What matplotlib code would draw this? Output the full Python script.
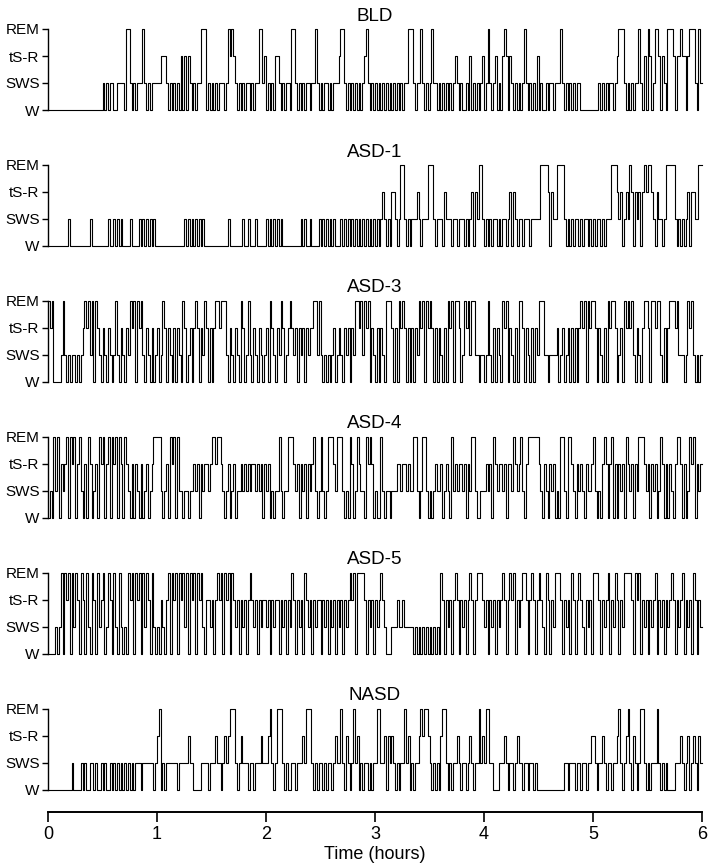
import numpy as np
import matplotlib
matplotlib.use('Agg')
import matplotlib.pyplot as plt

plt.rcParams['font.family'] = ['Liberation Sans', 'DejaVu Sans']

# sleep stage per minute, one string per hour
# W = wake, S = SWS, T = tS-R, R = REM
LEVELS = {'W': 0, 'S': 1, 'T': 2, 'R': 3}
stage_labels = ['W', 'SWS', 'tS-R', 'REM']
titles = ['BLD', 'ASD-1', 'ASD-3', 'ASD-4', 'ASD-5', 'NASD']
hour_ticks = [0, 1, 2, 3, 4, 5, 6]

bld = [
    "W" * 30 + "SWSWS" "SWW" "SSSSW" "RR" "SWSWSSSR" "SWSWSSS",
    "SS" "TTT" "SWSWSWSW" "TWTWT" "SWSWSS" "RRR" "WSWSWSWSSSWS" "RTRT" "SWSWSWSSWSWSS" "RRST",
    "WSWSWTT" "SWSWSSW" "RR" "SWSWSWSSWSS" "R" "SWSWSSWSWSSS" "TRR" "SWSWSWSWSWS" "TRSWSW",
    "SWSWSWSWSWSWSWSWSS" "RRR" "SWSS" "R" "SWSWS" "R" "SSWSWSWSWSWS" "T" "SWSWWSW" "T" "WSWSWS" "T",
    "WSRSWSTWSW" "TRTWT" "SWSWSWS" "R" "SWSWSW" "T" "WSWWSWSSWSSS" "R" "SWSWSWSWSS" "WWWWWWW",
    "WWWSWSWSWSSWS" "TRRR" "SWSWSWSS" "R" "SWTWRTWS" "RRT" "WTSW" "RRRT" "WTTRTTWT" "RRR" "SWRS",
]

asd1 = [
    "W" * 11 + "S" + "W" * 11 + "S" + "W" * 9 + "S" "WW" "S" "W" "S" "W" "S" "WWWW" "S" "WWWW" "SWSWS" "W" "S" "W" "S" "W",
    "W" * 15 + "SWSWS" "W" "SWSWS" + "W" * 13 + "S" + "W" * 7 + "SWWS" "WWW" "S" "WWWWW",
    "SWSWSWSWS" + "W" * 10 + "S" "W" "S" "WW" "S" "WWWW" "SWSWSWSWS" "WWW" "SWSWSWSWSWSWSWSWSWS",
    "WSWSTSWSWTTSWS" "RR" "SWSWSSS" "T" "SWSSS" "RRR" "SWSSSW" "T" "SSSWSSWSSSWSWS" "TWTS" "RRS",
    "WSWSWSSWSWSSWS" "TWTS" "WSSWSSSWSSSSS" "RRRR" "TWTSS" "RRRR" "SWSWSWSSWSWSSWSW",
    "SWSSWSWSSS" "RRR" "TSTWSTS" "RTWTSTWT" "RTRRT" "SWTSSWS" "RRRRR" "SWSWSWS" "TWTTSSRR",
]

asd3 = [
    "RTRWWWWSRSWSWSSWSWST" "RTRSRWRTSWTSWTSWSRSW" "TSWTSRTRWRTRSWTSWTWS",
    "TWSRTWTSWTWTSWRTWSTW" "TRTWTSRTWTWTRRTRRRSW" "TSWTSWRTWSRSWTSWTSWS",
    "TWRTSWTSRTWSTRTSTWTS" "TWTSTTRRSRSWSWSWSTWS" "TSWTSTWTSRRTRSRTRWTS",
    "WTWTSWRRRTWTWRTRTWTW" "TWTSRTRWRTRTWTWTSWTW" "RTRWRRTWSRTRSRRSSWSS",
    "WSRSWTWTSWRTRWTSWTWR" "RTWTSWTWTSRRRSSWSSSS" "TWSTWSTWTWTWTRTRWRTR",
    "RTWTSWTWRTRRTWSTWRTR" "TRSWTSWTRRTWRRTRRSWT" "WTRRRTRSSSWSRTRSWSWS",
]

asd4 = [
    "WSWRSRWTSTRWRTRWTRSW" "TWRTWSTWRTRWTRWRTRWR" "TWRTSWTWTSWTWSTWSTRR",
    "RRSWSTWRTRWRSSWSSWSS" "TSTWTSTTSTRRTRRTSWST" "WSTWSSTSTSTSTTSTSTWT",
    "STWSWSSRSWSSRRRTSTWT" "STWTSTRSWSRSWSRRRTSR" "RRSWSWRTWSRTSSWRTRTW",
    "SWWRSWSSWSSSTTSTTSTS" "SRRSWSRRSWSWSTSSTWST" "SWRSTSTTSTWTSRRSWWSS",
    "STSTWRTSTTSTWTTSRTST" "RSWTRRRRRRTSWTSWTSTW" "SWRRSWRRTSWTSTSWTSST",
    "RSWSWTRTWTRWTWTSTWRT" "STWTSRRRTSTWTSTWSRTW" "TWTSWTRRTWTWSRTRWTST",
]

asd5 = [
    "WWWWSWSRWRTRWRSRTWRT" "WRSWRTWRSTRWSRTWRSWR" "SWSWRTRWRTRWRSRTWRSW",
    "SWTSWTRWRTRWRTRSRWRT" "RWRTRSWTTSTWTRTRWRTR" "WRTSTWTSTWTRTSTWTSTT",
    "STWTSTTWTSTWTSRTWTST" "WRTSTWTSTTWTSTWTSTWT" "STWTSTRTRWRRRRTWTSTW",
    "TSTRTSWWWSSSTSSTSSSS" "SWSWSWSWSWSWSWSWRTWT" "STWTRTWTSTWTRTWTRRRT",
    "STWTSTWTSTRTWTRTRWTS" "TRRTWTRTWTRTSWRTWTSR" "RRTWTSTWRTWTRTSWTSTW",
    "RRRTWTSTRWTSRTWTSRRR" "RTWRTRWTSTWTSTRWTSTW" "TSTRTWTSTRWTSTWRTWTS",
]

nasd = [
    "W" * 13 + "S" "WWWW" "SWS" "WW" "SSWSWW" "SWSWWSWSWSWSWSWSWSW" "SSSWSSSSSSWS",
    "TRWSWSSSSSSWSSSSSTSS" "WWWWSSSSWSSSTSSWSTST" "RRRSWSTSSSWSSWSSSTSS",
    "STRSWSRRRSWSWWSSWSSS" "TSRRRSWSWSSWSWSSWSTS" "SRSWTSWSRSTWSWSSWSWS",
    "SRRSSTWTSTSWSWSSRSTW" "SWSSTRTRRTSWSWSWTRRS" "WSWSSTSWSSWSTSWSSRST",
    "SRRSSWWWSSSTSWSSWSTS" "SWSSWSSWS" + "W" * 15 + "SSWSSSWSSWSSWSST",
    "TSWSSTSWSSWSSTRSWSTR" "SWTSWSRRSWSWSSSRSWSW" "SWWWWSSSTSWSTWSTSWTS",
]

recordings = [bld, asd1, asd3, asd4, asd5, nasd]


def hypnogram(hours):
    # each hour string is spread evenly over its hour
    t, y = [], []
    for h, chunk in enumerate(hours):
        n = len(chunk)
        for k, c in enumerate(chunk):
            t.append(h + k / n)
            y.append(LEVELS[c])
    t.append(len(hours))
    y.append(y[-1])
    return np.array(t), np.array(y)


W_PX, H_PX = 709, 868
fig = plt.figure(figsize=(W_PX / 100, H_PX / 100), dpi=100)
left = 48 / W_PX
width = 654 / W_PX
panel_h = 81 / H_PX

for i, (name, rec) in enumerate(zip(titles, recordings)):
    top_px = 29 + 135.9 * i
    ax = fig.add_axes([left, 1 - (top_px + 81) / H_PX, width, panel_h])
    t, y = hypnogram(rec)
    ax.step(t, y, where='post', color='black', lw=0.8, clip_on=False)
    ax.set_xlim(0, 6)
    ax.set_ylim(0, 3)
    for s in ['top', 'right', 'bottom']:
        ax.spines[s].set_visible(False)
    ax.spines['left'].set_linewidth(1.0)
    ax.set_yticks([0, 1, 2, 3])
    ax.set_yticklabels(stage_labels, fontsize=11)
    ax.tick_params(axis='y', length=4, width=1, pad=2)
    ax.set_xticks([])
    ax.set_title(name, fontsize=13.5, pad=6)
    ax.patch.set_visible(False)

# shared time axis
xa = fig.add_axes([left, 1 - 812 / H_PX, width, 0.001])
for s in ['top', 'right', 'left']:
    xa.spines[s].set_visible(False)
xa.spines['bottom'].set_linewidth(1.4)
xa.set_xlim(0, 6)
xa.set_yticks([])
xa.set_xticks(hour_ticks)
xa.set_xticklabels([str(h) for h in hour_ticks], fontsize=13)
xa.tick_params(axis='x', length=7, width=1.2, pad=3)
xa.set_xlabel('Time (hours)', fontsize=13, labelpad=2)
xa.patch.set_visible(False)

fig.savefig('out.png', dpi=100)
